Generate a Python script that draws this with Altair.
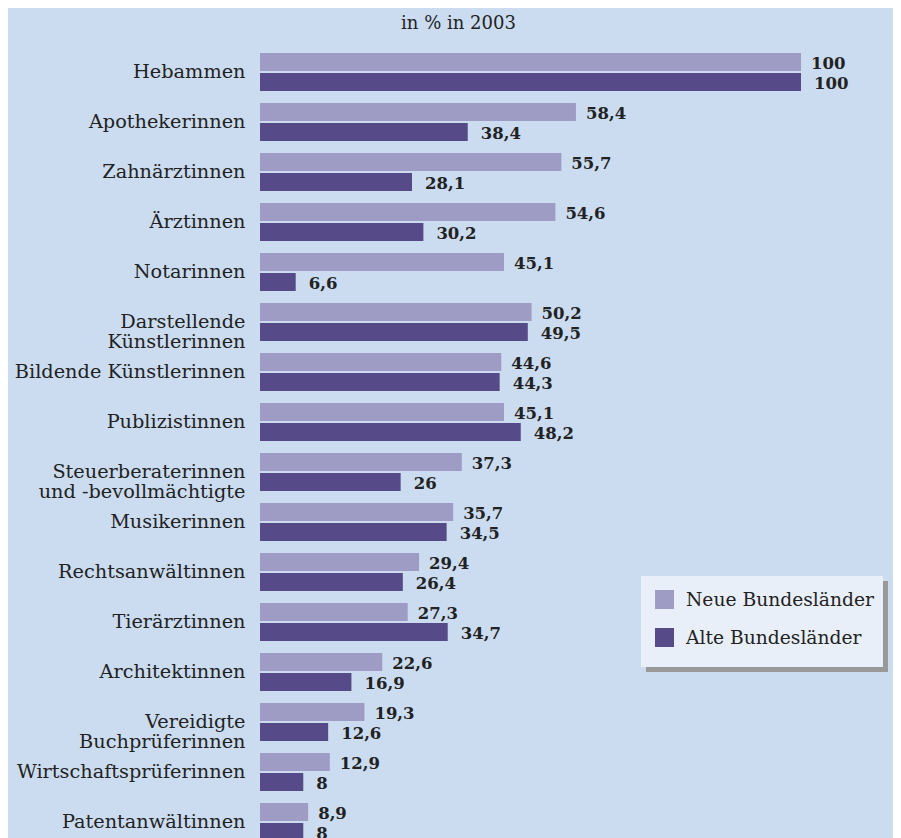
import altair as alt
import pandas as pd

categories = [
    "Hebammen", "Apothekerinnen", "Zahnärztinnen", "Ärztinnen", "Notarinnen",
    "Darstellende\nKünstlerinnen", "Bildende Künstlerinnen", "Publizistinnen",
    "Steuerberaterinnen\nund -bevollmächtigte", "Musikerinnen", "Rechtsanwältinnen",
    "Tierärztinnen", "Architektinnen", "Vereidigte\nBuchprüferinnen",
    "Wirtschaftsprüferinnen", "Patentanwältinnen",
]
neue = [100, 58.4, 55.7, 54.6, 45.1, 50.2, 44.6, 45.1, 37.3, 35.7, 29.4, 27.3, 22.6, 19.3, 12.9, 8.9]
alte = [100, 38.4, 28.1, 30.2, 6.6, 49.5, 44.3, 48.2, 26, 34.5, 26.4, 34.7, 16.9, 12.6, 8, 8]
series = ["Neue Bundesländer", "Alte Bundesländer"]
colors = ["#9e9cc4", "#564a88"]

BG = "#cbdcf1"
TXT = "#222222"
FONT = "DejaVu Serif"


def fmt(v):
    return f"{v:g}".replace(".", ",")


rows = []
for c, n, a in zip(categories, neue, alte):
    rows.append({"category": c, "series": series[0], "value": n, "label": fmt(n)})
    rows.append({"category": c, "series": series[1], "value": a, "label": fmt(a)})
df = pd.DataFrame(rows)

y_enc = alt.Y(
    "category:N",
    sort=categories,
    title=None,
    scale=alt.Scale(paddingInner=0.24, paddingOuter=0),
    axis=alt.Axis(
        labelExpr="split(datum.label, '\\n')",
        domain=False, ticks=False, grid=False,
        labelFont=FONT, labelFontSize=19.3, labelColor=TXT,
        labelPadding=15, labelLineHeight=20, labelLimit=0,
    ),
)
yoff_enc = alt.YOffset(
    "series:N", sort=series,
    scale=alt.Scale(paddingInner=0.1, paddingOuter=0),
)
x_enc = alt.X("value:Q", scale=alt.Scale(domain=[0, 100]), axis=None)

base = alt.Chart(df).encode(y=y_enc, yOffset=yoff_enc, x=x_enc)

bars = base.mark_bar().encode(
    color=alt.Color(
        "series:N",
        sort=series,
        scale=alt.Scale(domain=series, range=colors),
        legend=alt.Legend(
            title=None, orient="none", legendX=381, legendY=523,
            direction="vertical",
            padding=14, rowPadding=18,
            symbolType="square", symbolSize=361, symbolStrokeWidth=0,
            labelFont=FONT, labelFontSize=18.7, labelColor=TXT, labelOffset=12,
            labelLimit=0,
        ),
    )
)

txt_neue = base.mark_text(
    align="left", baseline="middle", dx=10, dy=2,
    font=FONT, fontSize=16.5, fontWeight="bold", color=TXT,
).encode(text="label:N").transform_filter(alt.datum.series == series[0])

txt_alte = base.mark_text(
    align="left", baseline="middle", dx=13, dy=2,
    font=FONT, fontSize=16.5, fontWeight="bold", color=TXT,
).encode(text="label:N").transform_filter(alt.datum.series == series[1])

# legend box and its drop shadow (decoration, in pixel units)
deco = pd.DataFrame({"k": [0]})
shadow = alt.Chart(deco).mark_rect(color="#999999").encode(
    x=alt.value(386), x2=alt.value(628), y=alt.value(528), y2=alt.value(619)
)
box = alt.Chart(deco).mark_rect(color="#e8eff9").encode(
    x=alt.value(381), x2=alt.value(623), y=alt.value(523), y2=alt.value(614)
)

chart = alt.layer(bars, txt_neue, txt_alte, shadow, box).properties(
    width=541, height=788,
    title=alt.TitleParams(
        "in % in 2003", font=FONT, fontSize=18, fontWeight="normal",
        color=TXT, anchor="middle", dx=-72, offset=20,
    ),
    autosize=alt.AutoSizeParams(type="none"),
    padding={"left": 252, "top": 45, "right": 92, "bottom": 0},
    background=BG,
).configure_view(stroke=None)

chart.save("out.html", embed_options={"renderer": "svg", "actions": False})
